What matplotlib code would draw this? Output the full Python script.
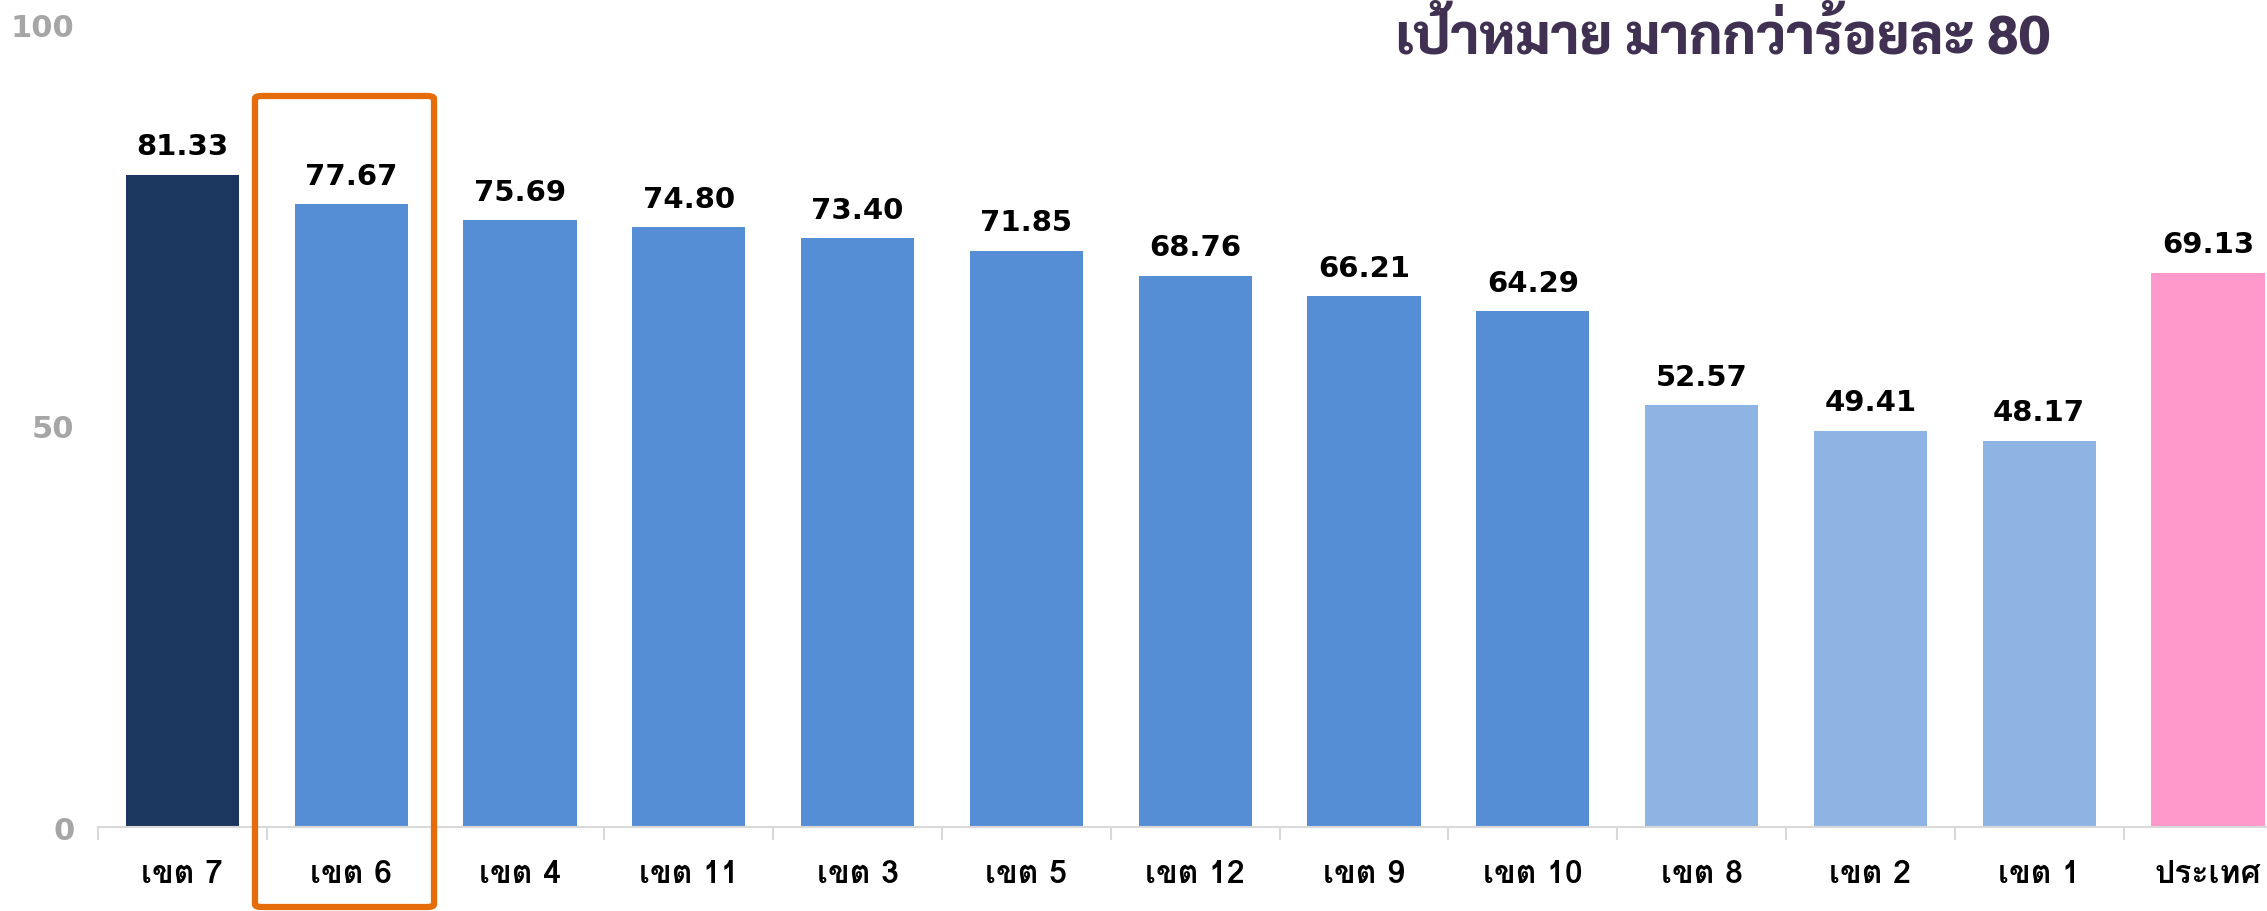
"""Bar chart of scores by health region (เขต) vs. national average, target > 80."""
import matplotlib
matplotlib.use('Agg')
from matplotlib import pyplot
from matplotlib.patches import FancyBboxPatch

# data
regions = ['เขต 7', 'เขต 6', 'เขต 4', 'เขต 11', 'เขต 3', 'เขต 5', 'เขต 12',
           'เขต 9', 'เขต 10', 'เขต 8', 'เขต 2', 'เขต 1', 'ประเทศ']
scores = [81.33, 77.67, 75.69, 74.80, 73.40, 71.85, 68.76,
          66.21, 64.29, 52.57, 49.41, 48.17, 69.13]
bar_colors = ['#1B3760'] + ['#558ED5'] * 8 + ['#8EB4E3'] * 3 + ['#FF99CC']
y_ticks = [0, 50, 100]
title = 'เป้าหมาย มากกว่าร้อยละ 80'

thai = ['Loma', 'DejaVu Sans']

W, H = 2267, 912
figure = pyplot.figure(figsize=(W / 100, H / 100), dpi=100)
# axes run past the right edge on purpose: the last category is cut off in the original
x0, x1 = 98, 98 + 13 * 168.8
y0, y1 = 828, 26
axes = figure.add_axes([x0 / W, 1 - y0 / H, (x1 - x0) / W, (y0 - y1) / H])

positions = range(len(scores))
axes.bar(positions, scores, width=0.67, color=bar_colors, zorder=2)
axes.set_xlim(-0.5, len(scores) - 0.5)
axes.set_ylim(0, 100)

for x, v in zip(positions, scores):
    axes.text(x, v + 1.8, '%.2f' % v, ha='center', va='bottom',
              fontsize=21, fontweight='bold', family='DejaVu Sans', color='black')

# category ticks sit between the bars
axes.set_xticks([p - 0.5 for p in positions] + [len(scores) - 0.5])
axes.set_xticklabels([])
axes.tick_params(axis='x', length=9, width=1.5, color='#D9D9D9', direction='out')
for x, name in zip(positions, regions):
    axes.text(x, -4.0, name, ha='center', va='top', fontsize=23,
              fontweight='bold', family=thai, color='black', clip_on=False)

axes.set_yticks(y_ticks)
axes.set_yticklabels([str(t) for t in y_ticks], fontsize=22, fontweight='bold',
                     color='#A6A6A6', family='DejaVu Sans')
axes.tick_params(axis='y', length=0, pad=17)

for side in ['top', 'right', 'left']:
    axes.spines[side].set_visible(False)
axes.spines['bottom'].set_color('#D9D9D9')
axes.spines['bottom'].set_linewidth(1.5)

# orange box around เขต 6
box = FancyBboxPatch((255 / W, 1 - 908 / H), (434 - 255) / W, (908 - 97) / H,
                     boxstyle='round,pad=0,rounding_size=0.003',
                     transform=figure.transFigure, fill=False,
                     edgecolor='#E46C0A', linewidth=4.5, zorder=5)
figure.patches.append(box)

figure.text(2050 / W, 1 - 40 / H, title, ha='right', va='center', fontsize=40,
            fontweight=800, color='#403152', family=['Sarabun', 'DejaVu Sans'])

figure.savefig('out.png', dpi=100)
